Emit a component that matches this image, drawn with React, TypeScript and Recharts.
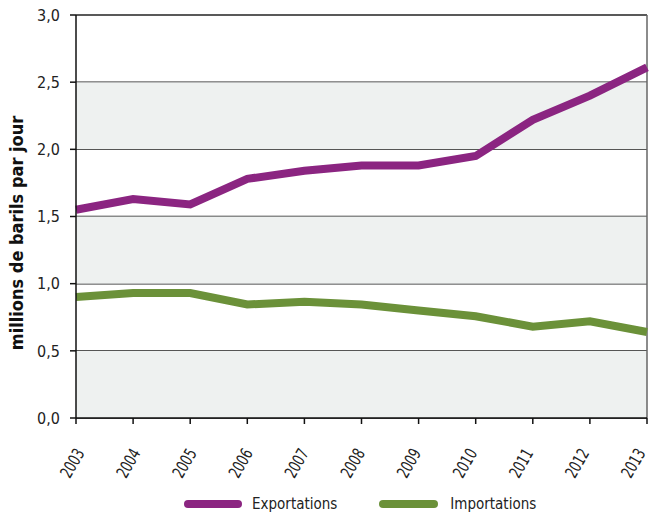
import { LineChart, Line, XAxis, YAxis, CartesianGrid, ReferenceArea, ReferenceLine, Legend } from 'recharts';

const years = ['2003', '2004', '2005', '2006', '2007', '2008', '2009', '2010', '2011', '2012', '2013'];
const exportations = [1.55, 1.63, 1.59, 1.78, 1.84, 1.88, 1.88, 1.95, 2.22, 2.4, 2.61];
const importations = [0.9, 0.93, 0.93, 0.845, 0.865, 0.845, 0.8, 0.757, 0.68, 0.72, 0.64];
const yTicks = [0, 0.5, 1, 1.5, 2, 2.5, 3];
const bands = [[0, 0.5], [1, 1.5], [2, 2.5]];

const data = years.map((y, i) => ({ year: y, Exportations: exportations[i], Importations: importations[i] }));

const FONT = "'Liberation Sans Narrow', 'DejaVu Sans Condensed', sans-serif";
const PURPLE = '#8b2581';
const GREEN = '#6b9139';

// labels drift slightly left of their ticks towards the right end
const XTick = (props: any) => {
  const { x, y, payload, index } = props;
  const off = 9 - 1.0 * (index || 0);
  return (
    <g transform={`translate(${x + off},${y + 27})`}>
      <text transform="rotate(-60) scale(0.78,1)" textAnchor="end" fontSize={17} fill="#222" fontFamily={FONT}>
        {payload.value}
      </text>
    </g>
  );
};

const YLabel = () => (
  <text
    x={16}
    y={233}
    transform="rotate(-90 16 233)"
    textAnchor="middle"
    dominantBaseline="central"
    fontFamily={FONT}
    fontWeight="bold"
    fontSize={18}
    fill="#111"
  >
    millions de barils par jour
  </text>
);

const renderLegend = () => (
  <div style={{ display: 'flex', alignItems: 'center', paddingLeft: 184, paddingTop: 15, fontFamily: FONT, fontSize: 15, color: '#222' }}>
    <span style={{ display: 'inline-block', width: 58, height: 8, borderRadius: 4, background: PURPLE, marginRight: 10 }} />
    <span style={{ marginRight: 42 }}>Exportations</span>
    <span style={{ display: 'inline-block', width: 59, height: 8, borderRadius: 4, background: GREEN, marginRight: 12 }} />
    <span>Importations</span>
  </div>
);

export default function App() {
  return (
    <div style={{ position: 'absolute', left: 0, top: 0, background: '#fff', width: 650, height: 514 }}>
      <style>{`body{margin:0;overflow:hidden}`}</style>
      <LineChart width={650} height={514} data={data} margin={{ top: 15, right: 3, left: 0, bottom: 0 }}>
        {bands.map(([a, b]) => (
          <ReferenceArea key={a} y1={a} y2={b} fill="#eef1f0" fillOpacity={1} stroke="none" ifOverflow="visible" />
        ))}
        <CartesianGrid vertical={false} stroke="#222" strokeWidth={1.5} />
        <ReferenceLine x="2013" stroke="#666" strokeWidth={1.5} />
        <XAxis
          dataKey="year"
          height={62}
          tick={<XTick />}
          tickSize={6}
          axisLine={{ stroke: '#111', strokeWidth: 1.5 }}
          tickLine={{ stroke: '#111', strokeWidth: 1.5 }}
          interval={0}
        />
        <YAxis
          width={76}
          domain={[0, 3]}
          ticks={yTicks}
          tickSize={6}
          tickMargin={10}
          tickFormatter={(v: number) => v.toFixed(1).replace('.', ',')}
          tick={{ fontSize: 16, fill: '#222', fontFamily: FONT }}
          axisLine={{ stroke: '#111', strokeWidth: 1.5 }}
          tickLine={{ stroke: '#111', strokeWidth: 1.5 }}
          label={<YLabel />}
        />
        <Legend verticalAlign="bottom" height={34} content={renderLegend} />
        <Line type="linear" dataKey="Exportations" stroke={PURPLE} strokeWidth={8} dot={false} isAnimationActive={false} />
        <Line type="linear" dataKey="Importations" stroke={GREEN} strokeWidth={8} dot={false} isAnimationActive={false} />
      </LineChart>
    </div>
  );
}
